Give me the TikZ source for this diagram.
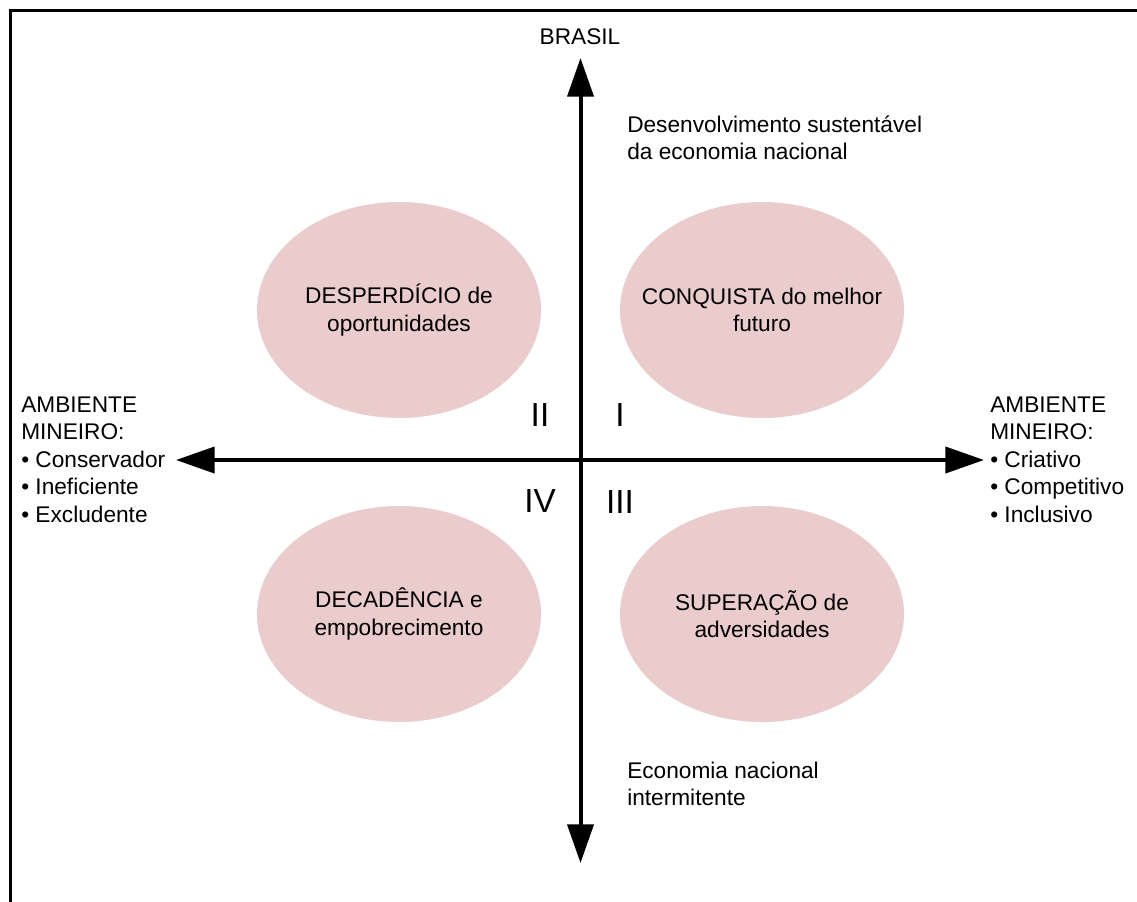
\documentclass[tikz,border=0pt]{standalone}
\usepackage{fontspec}
\setmainfont{Liberation Sans}
\usetikzlibrary{arrows.meta,shapes.geometric}
\definecolor{pinkfill}{RGB}{235,204,204}
\tikzset{
  px/.style={x=0.75pt,y=-0.75pt},
  lbl/.style={font=\fontsize{17pt}{20.6pt}\selectfont, inner sep=0pt, align=left},
  roman/.style={font=\fontsize{25pt}{30pt}\selectfont, inner sep=0pt},
  oval/.style={ellipse, fill=pinkfill, draw=none, minimum width=213pt, minimum height=162pt, inner xsep=-20pt, inner ysep=0pt, align=center, font=\fontsize{17pt}{20.6pt}\selectfont},
  axis/.style={line width=3pt, {Triangle[length=29pt,width=19.5pt]}-{Triangle[length=29pt,width=19.5pt]}},
  frame/.style={line width=2pt}
}
\begin{document}
\begin{tikzpicture}[px]
\useasboundingbox (0,0) rectangle (1137,901);
\clip (0,0) rectangle (1137,901);
\draw[frame] (10.7,920) -- (10.7,10.7) -- (1160,10.7);

\node[oval] (q2) at (399,310) {DESPERDÍCIO de\\oportunidades};
\node[oval] (q1) at (762,310) {CONQUISTA do melhor\\futuro};
\node[oval] (q4) at (399,614) {DECADÊNCIA e\\empobrecimento};
\node[oval] (q3) at (762,614) {SUPERAÇÃO de\\adversidades};

\coordinate (top) at (580.5,58);
\coordinate (bottom) at (580.5,863);
\coordinate (left) at (176,460);
\coordinate (right) at (984,460);
\draw[axis] (bottom) -- (top);
\draw[axis] (left) -- (right);

\node[lbl] (brasil) at (580,37) {BRASIL};
\node[lbl, anchor=west] (up) at (627,138) {Desenvolvimento sustentável\\da economia nacional};
\node[lbl, anchor=west] (down) at (627,784) {Economia nacional\\intermitente};
\node[lbl, anchor=west] (lt) at (21,459.5) {AMBIENTE\\MINEIRO:\\\textbullet\ Conservador\\\textbullet\ Ineficiente\\\textbullet\ Excludente};
\node[lbl, anchor=west] (rt) at (990,459.5) {AMBIENTE\\MINEIRO:\\\textbullet\ Criativo\\\textbullet\ Competitivo\\\textbullet\ Inclusivo};

\node[roman] (rII) at (540,415) {II};
\node[roman] (rI) at (620,415) {I};
\node[roman] (rIV) at (540,501) {IV};
\node[roman] (rIII) at (620,502) {III};
\end{tikzpicture}
\end{document}
